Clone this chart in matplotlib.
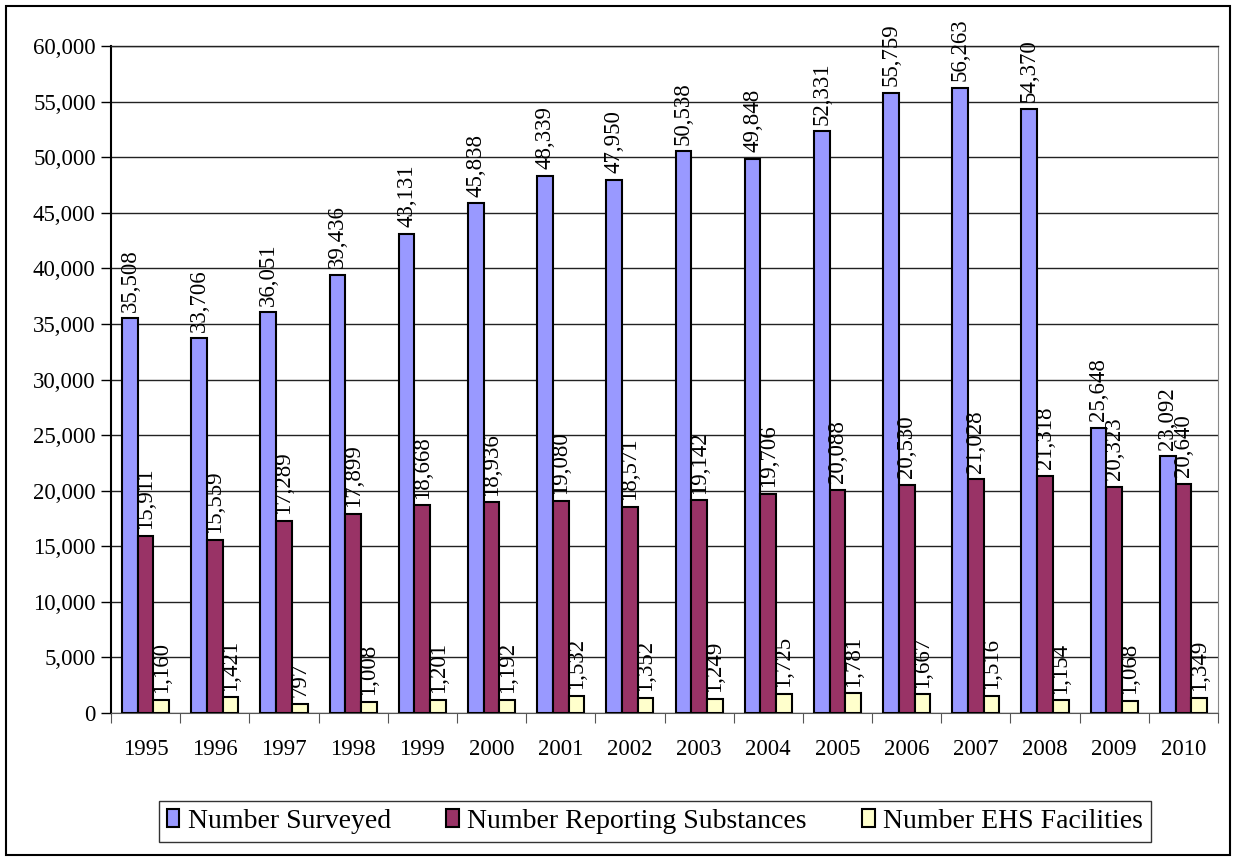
import numpy as np
import matplotlib
matplotlib.use('Agg')
import matplotlib.pyplot as plt
from matplotlib.patches import Rectangle
from matplotlib.ticker import FuncFormatter

plt.rcParams['font.family'] = ['Liberation Serif', 'DejaVu Serif']

# Data
years = ['1995', '1996', '1997', '1998', '1999', '2000', '2001', '2002',
         '2003', '2004', '2005', '2006', '2007', '2008', '2009', '2010']
surveyed = [35508, 33706, 36051, 39436, 43131, 45838, 48339, 47950,
            50538, 49848, 52331, 55759, 56263, 54370, 25648, 23092]
reporting = [15911, 15559, 17289, 17899, 18668, 18936, 19080, 18571,
             19142, 19706, 20088, 20530, 21028, 21318, 20323, 20640]
ehs = [1160, 1421, 797, 1008, 1201, 1192, 1532, 1352,
       1249, 1725, 1781, 1667, 1516, 1154, 1068, 1349]

series_names = ['Number Surveyed', 'Number Reporting Substances', 'Number EHS Facilities']
colors = ['#9999FF', '#993366', '#FFFFCC']

fig = plt.figure(figsize=(12.36, 8.59), dpi=100)
ax = fig.add_axes([111 / 1236, 1 - 713 / 859, (1218 - 111) / 1236, (713 - 46) / 859])

x = np.arange(len(years))
w = 0.227
offsets = [-w, 0, w]

for vals, off, col, name in zip([surveyed, reporting, ehs], offsets, colors, series_names):
    bars = ax.bar(x + off, vals, width=w, color=col, edgecolor='black',
                  linewidth=1.5, label=name, zorder=3)
    for b, v in zip(bars, vals):
        ax.text(b.get_x() + b.get_width() / 2, v + 600, f'{v:,}',
                rotation=90, ha='center', va='bottom', fontsize=16.5, zorder=4)

ax.set_xlim(-0.5, len(years) - 0.5)
ax.set_ylim(0, 60000)
ax.set_yticks(np.arange(0, 60001, 5000))
ax.yaxis.set_major_formatter(FuncFormatter(lambda v, p: f'{int(v):,}'))
ax.grid(axis='y', color='#222222', linewidth=1, zorder=0)

# category boundary ticks, labels in the middle
ax.set_xticks(np.arange(-0.5, len(years)), minor=False)
ax.set_xticklabels([])
ax.set_xticks(x, minor=True)
ax.set_xticklabels(years, minor=True)
ax.tick_params(axis='x', which='major', length=7, color='#555555', direction='out')
ax.tick_params(axis='x', which='minor', length=0, pad=19, labelsize=16.5)
ax.tick_params(axis='y', length=7, width=1, direction='out', labelsize=16.5, pad=4)

ax.spines['left'].set_linewidth(1.5)
ax.spines['bottom'].set_color('#555555')
ax.spines['right'].set_color('#888888')
ax.spines['top'].set_color('#222222')
ax.spines['top'].set_linewidth(1)

leg = fig.legend(loc='center', bbox_to_anchor=(655 / 1236, 1 - 821.5 / 859), ncol=3,
                 fontsize=20, frameon=True, fancybox=False, edgecolor='black',
                 handlelength=0.45, handleheight=0.6, handletextpad=0.3,
                 columnspacing=2.0, borderpad=0.3)
leg.get_frame().set_linewidth(1)

fig.patches.append(Rectangle((6 / 1236, 4 / 859), 1224 / 1236, 849 / 859,
                             transform=fig.transFigure, fill=False,
                             edgecolor='black', linewidth=1.5))

fig.savefig('out.png', dpi=100)
